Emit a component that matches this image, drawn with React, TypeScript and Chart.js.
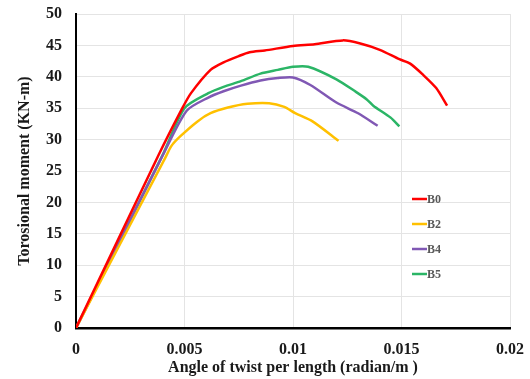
import React, { useEffect, useRef } from "react";
import { Chart, registerables } from "chart.js";

Chart.register(...registerables);

const seriesNames = ["B0", "B2", "B4", "B5"];
const seriesColors = ["#FF0000", "#FFC000", "#8058B4", "#2BB566"];

const b0X = [0, 0.0038, 0.0049, 0.0053, 0.0062, 0.0068, 0.0075, 0.008, 0.0087, 0.01, 0.011, 0.0123, 0.0131, 0.014, 0.0149, 0.0154, 0.016, 0.0166, 0.0171];
const b0Y = [0, 27.5, 35, 37.4, 41.1, 42.3, 43.3, 43.9, 44.2, 44.9, 45.2, 45.8, 45.3, 44.3, 42.8, 42.1, 40.3, 38.2, 35.4];

const b2X = [0, 0.0041, 0.0044, 0.0048, 0.0056, 0.0062, 0.007, 0.0079, 0.0089, 0.0096, 0.0101, 0.0109, 0.0121];
const b2Y = [0, 27, 29, 30.5, 32.9, 34.2, 35.1, 35.7, 35.8, 35.2, 34.2, 32.9, 29.8];

const b4X = [0, 0.004, 0.0051, 0.0061, 0.0068, 0.0076, 0.0085, 0.0093, 0.01, 0.0108, 0.012, 0.013, 0.0139];
const b4Y = [0, 27.5, 34.6, 36.7, 37.7, 38.6, 39.4, 39.8, 39.9, 38.7, 35.9, 34.2, 32.2];

const b5X = [0, 0.004, 0.005, 0.0061, 0.0068, 0.0076, 0.0085, 0.0093, 0.01, 0.0107, 0.012, 0.0129, 0.0134, 0.0137, 0.0145, 0.0149];
const b5Y = [0, 27.6, 35, 37.4, 38.4, 39.3, 40.5, 41.1, 41.6, 41.6, 39.6, 37.6, 36.4, 35.4, 33.5, 32.1];

const xTickLabels = ["0", "0.005", "0.01", "0.015", "0.02"];
const yTickLabels = ["0", "5", "10", "15", "20", "25", "30", "35", "40", "45", "50"];

const xTitle = "Angle of twist per length (radian/m )";
const yTitle = "Torosional moment (KN-m)";

const FONT = "'Liberation Serif', 'Times New Roman', serif";

function zip(xs: number[], ys: number[]) {
  return xs.map((x, i) => ({ x, y: ys[i] }));
}

const insideLegend = {
  id: "insideLegend",
  afterDatasetsDraw(chart: any) {
    const ctx = chart.ctx;
    const area = chart.chartArea;
    chart.data.datasets.forEach((ds: any, i: number) => {
      const y = area.top + 185 + i * 25;
      const x0 = area.right - 98;
      ctx.save();
      ctx.strokeStyle = ds.borderColor;
      ctx.lineWidth = 2.5;
      ctx.beginPath();
      ctx.moveTo(x0, y);
      ctx.lineTo(x0 + 15, y);
      ctx.stroke();
      ctx.fillStyle = "#595959";
      ctx.font = `bold 12px ${FONT}`;
      ctx.textBaseline = "middle";
      ctx.textAlign = "left";
      ctx.fillText(ds.label, x0 + 15, y + 1);
      ctx.restore();
    });
  },
};

export default function App() {
  const ref = useRef<HTMLCanvasElement | null>(null);

  useEffect(() => {
    if (!ref.current) return;
    const all = [zip(b0X, b0Y), zip(b2X, b2Y), zip(b4X, b4Y), zip(b5X, b5Y)];
    const chart = new Chart(ref.current, {
      type: "scatter",
      data: {
        datasets: all.map((d, i) => ({
          label: seriesNames[i],
          data: d,
          showLine: true,
          borderColor: seriesColors[i],
          backgroundColor: seriesColors[i],
          borderWidth: 2.5,
          pointRadius: 0,
          tension: 0.25,
        })),
      },
      options: {
        responsive: false,
        animation: false,
        layout: { padding: { top: 14, right: 20, left: 0, bottom: 0 } },
        plugins: {
          legend: { display: false },
          tooltip: { enabled: false },
        },
        scales: {
          x: {
            type: "linear",
            min: 0,
            max: 0.02,
            afterFit: (s: any) => {
              s.height = 51;
              s.paddingLeft = 0;
              s.paddingRight = 0;
            },
            afterBuildTicks: (s: any) => {
              s.ticks = xTickLabels.map((t) => ({ value: parseFloat(t) }));
            },
            ticks: {
              padding: 12,
              color: "#1a1a1a",
              font: { family: FONT, size: 16, weight: "bold" },
              callback: (_v: any, i: number) => xTickLabels[i],
            },
            grid: { color: "#e4e4e4", lineWidth: 1, drawTicks: false },
            border: { color: "#000000", width: 2.5 },
            title: {
              display: true,
              text: xTitle,
              color: "#1a1a1a",
              font: { family: FONT, size: 16, weight: "bold" },
              padding: { top: 0, bottom: 2 },
            },
          },
          y: {
            type: "linear",
            min: 0,
            max: 50,
            afterFit: (s: any) => {
              s.width = 76;
              s.paddingTop = 0;
              s.paddingBottom = 0;
            },
            afterBuildTicks: (s: any) => {
              s.ticks = yTickLabels.map((t) => ({ value: parseFloat(t) }));
            },
            ticks: {
              padding: 14,
              color: "#1a1a1a",
              font: { family: FONT, size: 16, weight: "bold" },
              callback: (_v: any, i: number) => yTickLabels[i],
            },
            grid: { color: "#e4e4e4", lineWidth: 1, drawTicks: false },
            border: { color: "#000000", width: 2 },
            title: {
              display: true,
              text: yTitle,
              color: "#1a1a1a",
              font: { family: FONT, size: 16, weight: "bold" },
              padding: { top: 15, bottom: 0 },
            },
          },
        },
      },
      plugins: [insideLegend],
    });
    return () => chart.destroy();
  }, []);

  return (
    <div style={{ position: "absolute", left: 0, top: 0, width: 530, height: 379, background: "#fff" }}>
      <canvas ref={ref} width={530} height={379} />
    </div>
  );
}
